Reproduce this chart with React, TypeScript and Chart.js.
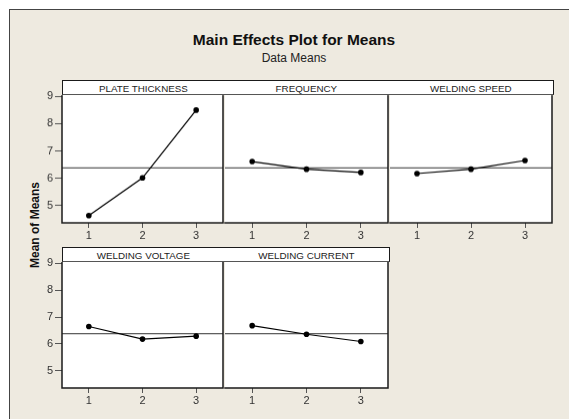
import React, { useEffect, useRef } from 'react';
import { Chart, registerables } from 'chart.js';
Chart.register(...registerables);

const FACTORS = ['PLATE THICKNESS', 'FREQUENCY', 'WELDING SPEED', 'WELDING VOLTAGE', 'WELDING CURRENT'];
const LEVELS = [1, 2, 3];
const PLATE_THICKNESS = [4.63, 6.01, 8.5];
const FREQUENCY = [6.61, 6.33, 6.21];
const WELDING_SPEED = [6.17, 6.33, 6.65];
const WELDING_VOLTAGE = [6.65, 6.18, 6.29];
const WELDING_CURRENT = [6.68, 6.36, 6.09];
const SERIES = [PLATE_THICKNESS, FREQUENCY, WELDING_SPEED, WELDING_VOLTAGE, WELDING_CURRENT];
const GRAND_MEAN = 6.38;
const Y_TICKS = [5, 6, 7, 8, 9];
const Y_MIN = 4.36;
const Y_MAX = 9.05;
const X_MIN = 0.5;
const X_MAX = 3.5;

const FONT = '"Liberation Sans", Arial, sans-serif';
const BEIGE = '#EEEAE0';

const COL_EDGES = [62, 224, 389, 553];
const ROW_HEADER_TOP = [80, 246.5];
const ROW_PLOT_TOP = [95, 261.5];
const ROW_PLOT_BOTTOM = [222.5, 387.5];
const Y_AXIS_W = 50;
const SIDE_PAD = 3;
const TOP_PAD = 10;
const X_AXIS_H = 24;

const makeFramePlugin = (drawLeft: boolean) => ({
  id: 'frame',
  beforeDraw(chart: any) {
    const { ctx, chartArea: a } = chart;
    ctx.save();
    ctx.fillStyle = '#ffffff';
    ctx.fillRect(a.left, a.top, a.right - a.left, a.bottom - a.top);
    ctx.restore();
  },
  afterDraw(chart: any) {
    const { ctx, chartArea: a } = chart;
    ctx.save();
    ctx.strokeStyle = '#1a1a1a';
    ctx.lineWidth = 1.5;
    ctx.beginPath();
    if (drawLeft) {
      ctx.moveTo(a.left, a.top);
      ctx.lineTo(a.left, a.bottom);
    } else {
      ctx.moveTo(a.left - 0.75, a.bottom);
    }
    ctx.lineTo(a.right, a.bottom);
    ctx.lineTo(a.right, a.top);
    ctx.stroke();
    ctx.restore();
  },
});

function Panel({ idx }: { idx: number }) {
  const ref = useRef<HTMLCanvasElement>(null);
  const r = Math.floor(idx / 3);
  const c = idx % 3;
  const left = COL_EDGES[c];
  const right = COL_EDGES[c + 1];
  const top = ROW_PLOT_TOP[r];
  const bottom = ROW_PLOT_BOTTOM[r];
  const padL = c === 0 ? Y_AXIS_W : SIDE_PAD;
  const cw = right - left + padL + SIDE_PAD;
  const ch = TOP_PAD + bottom - top + X_AXIS_H;
  const headerH = top - ROW_HEADER_TOP[r];

  useEffect(() => {
    if (!ref.current) return;
    const chart = new Chart(ref.current, {
      type: 'line',
      data: {
        datasets: [
          {
            data: LEVELS.map((x, i) => ({ x, y: SERIES[idx][i] })),
            borderColor: '#000',
            borderWidth: 1.2,
            pointRadius: 2.8,
            pointBackgroundColor: '#000',
            pointBorderWidth: 0,
            tension: 0,
          },
          {
            data: [
              { x: X_MIN, y: GRAND_MEAN },
              { x: X_MAX, y: GRAND_MEAN },
            ],
            borderColor: '#333',
            borderWidth: 1,
            pointRadius: 0,
          },
        ],
      },
      options: {
        animation: false,
        responsive: false,
        layout: { padding: { left: c === 0 ? 0 : SIDE_PAD, right: SIDE_PAD, top: TOP_PAD, bottom: 0 } },
        plugins: { legend: { display: false }, tooltip: { enabled: false }, title: { display: false } },
        scales: {
          x: {
            type: 'linear',
            min: X_MIN,
            max: X_MAX,
            afterBuildTicks: (s: any) => {
              s.ticks = LEVELS.map((v) => ({ value: v }));
            },
            afterFit: (s: any) => {
              s.height = X_AXIS_H;
            },
            grid: { display: true, drawOnChartArea: false, drawTicks: true, tickLength: 5, color: '#555', tickColor: '#555' },
            border: { display: false },
            ticks: { font: { family: FONT, size: 11 }, color: '#333', padding: 1, maxRotation: 0, autoSkip: false, callback: (v: any) => String(v) },
          },
          y: {
            type: 'linear',
            display: c === 0,
            min: Y_MIN,
            max: Y_MAX,
            afterBuildTicks: (s: any) => {
              s.ticks = Y_TICKS.map((v) => ({ value: v }));
            },
            afterFit: (s: any) => {
              s.width = c === 0 ? Y_AXIS_W : 0;
            },
            grid: { display: true, drawOnChartArea: false, drawTicks: true, tickLength: 7, color: '#555', tickColor: '#555' },
            border: { display: false },
            ticks: { font: { family: FONT, size: 11 }, color: '#333', padding: 2, autoSkip: false, callback: (v: any) => String(v) },
          },
        },
      } as any,
      plugins: [makeFramePlugin(c === 0)],
    });
    return () => chart.destroy();
  }, []);

  return (
    <>
      <div
        style={{
          position: 'absolute',
          left: left,
          top: ROW_HEADER_TOP[r],
          width: right - left + 0.75,
          height: headerH,
          boxSizing: 'border-box',
          background: '#fff',
          borderTop: '1.5px solid #1a1a1a',
          borderLeft: c === 0 ? '1.5px solid #1a1a1a' : 'none',
          borderRight: '1.5px solid #1a1a1a',
          borderBottom: '1px solid #555',
          fontFamily: FONT,
          fontSize: 9.8,
          color: '#222',
          textAlign: 'center',
          lineHeight: `${headerH}px`,
          whiteSpace: 'nowrap',
          overflow: 'hidden',
        }}
      >
        {FACTORS[idx]}
      </div>
      <canvas
        ref={ref}
        width={cw}
        height={ch}
        style={{ position: 'absolute', left: left - padL, top: top - TOP_PAD, width: cw, height: ch }}
      />
    </>
  );
}

export default function App() {
  return (
    <div style={{ position: 'absolute', left: 0, top: 0, width: 569, height: 419, background: '#fff', overflow: 'hidden' }}>
      <div
        style={{
          position: 'absolute',
          left: 9,
          top: 9,
          width: 600,
          height: 500,
          background: BEIGE,
          borderLeft: '1.5px solid #444',
          borderTop: '1.5px solid #444',
        }}
      />
      <div
        style={{
          position: 'absolute',
          left: 294,
          top: 40,
          transform: 'translate(-50%, -50%)',
          fontFamily: FONT,
          fontWeight: 'bold',
          fontSize: 15.5,
          color: '#111',
          whiteSpace: 'nowrap',
        }}
      >
        Main Effects Plot for Means
      </div>
      <div
        style={{
          position: 'absolute',
          left: 294,
          top: 58,
          transform: 'translate(-50%, -50%)',
          fontFamily: FONT,
          fontSize: 12,
          color: '#222',
          whiteSpace: 'nowrap',
        }}
      >
        Data Means
      </div>
      <div
        style={{
          position: 'absolute',
          left: 35,
          top: 225,
          transform: 'translate(-50%, -50%) rotate(-90deg)',
          fontFamily: FONT,
          fontWeight: 'bold',
          fontSize: 12,
          color: '#111',
          whiteSpace: 'nowrap',
        }}
      >
        Mean of Means
      </div>
      {FACTORS.map((_, i) => (
        <Panel key={i} idx={i} />
      ))}
    </div>
  );
}
